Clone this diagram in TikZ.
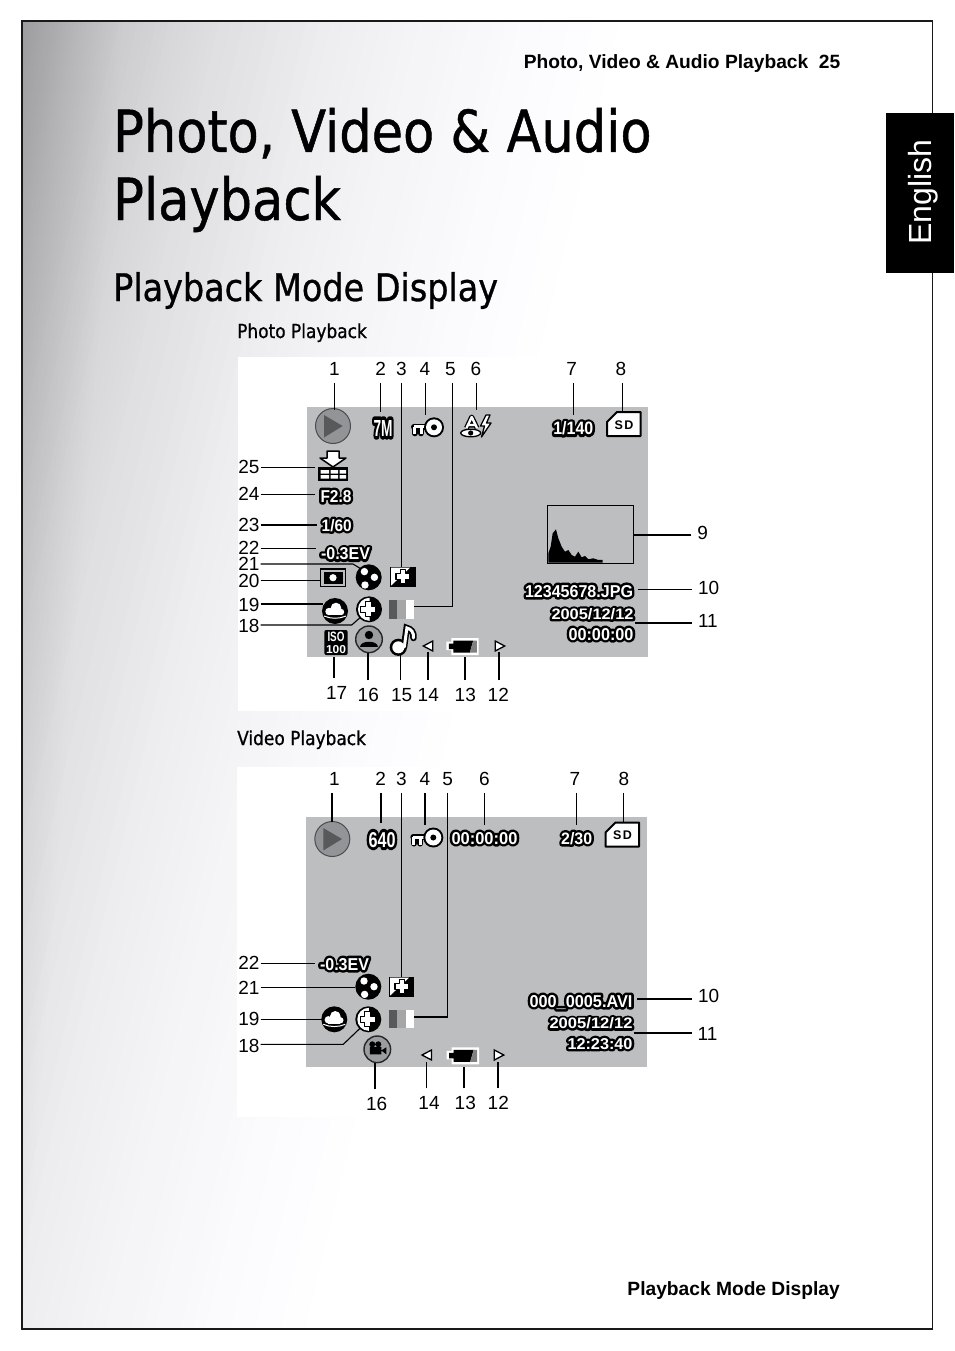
\documentclass[tikz,border=0pt]{standalone}
\usepackage{fontspec}
\usepackage{graphicx}
\setmainfont{Liberation Sans}
\newfontfamily\tahoma[FakeStretch=0.88,FakeBold=0.8]{DejaVu Sans}
\newfontfamily\osdfill{Liberation Sans}
\newfontfamily\osdhalo[BoldFeatures={FakeBold=30}]{Liberation Sans}
\definecolor{lcd}{RGB}{188,190,192}
\definecolor{playfill}{RGB}{146,148,151}
\definecolor{playdark}{RGB}{88,89,91}
\definecolor{personfill}{RGB}{155,157,160}
\tikzset{
  lbl/.style={inner sep=0pt,outer sep=0pt,text height=13pt,text depth=0pt,font=\fontsize{19}{19}\selectfont},
  lead/.style={line width=1.1pt,black},
  leadb/.style={line width=2pt,black},
  osdtext/.style={inner sep=0pt,outer sep=0pt},
  iconline/.style={black,line width=1.1pt},
}
\newcommand\haloed[1]{\hbox{\special{pdf:code 1 j 1 J}\fontsize{15}{15}\selectfont\rlap{\color{black}\osdhalo\bfseries #1}\textcolor{white}{\osdfill\bfseries #1}}}
\newcommand\osd[6]{\node[osdtext,anchor=base] (#1) at (#2,{#3+#5/2}) {\resizebox{#4pt}{#5pt}{\haloed{#6}}};}
% connectors
\newcommand\conntop[4][lead]{\draw[#1,shorten <=7pt] (#2.south -| #3) -- (#3);}
\newcommand\connbot[4][lead]{\draw[#1,shorten <=8.5pt] (#2.north -| #3) -- (#3);}
\newcommand\connleft[3][lead]{\draw[#1,shorten <=1pt] (#2.east |- #3) -- (#3);}
\newcommand\connright[3][lead]{\draw[#1,shorten <=6pt] (#2.west |- #3) -- (#3);}
% icons
\newcommand\iconplay[2]{\begin{scope}[shift={(#1,#2)}]
 \fill[playfill,draw=black!70,line width=1pt] (0,0) circle (17.5);
 \fill[playdark] (-9,-11) -- (-9,11.5) -- (9.7,0) -- cycle;
\end{scope}}
\newcommand\iconkey[2]{\begin{scope}[shift={(#1,#2)}]
 \draw[black,line width=6pt,line join=round,line cap=round] (-8,-0.5) -- (-20,-0.5) (-19.5,-0.5) -- (-19.5,6) (-13,-0.5) -- (-13,6);
 \draw[white,line width=3pt,line join=round] (-6,-0.5) -- (-20,-0.5) (-19.5,-0.5) -- (-19.5,7) (-13,-0.5) -- (-13,7);
 \fill[black] (0,0) circle (10);
 \fill[white] (0,0) circle (8);
 \fill[black] (0,0) circle (3);
\end{scope}}
\newcommand\iconsd[2]{\begin{scope}[shift={(#1,#2)}]
 \draw[black,fill=white,line width=2pt,line join=round] (-17,-2) -- (-7,-12) -- (16.5,-12) -- (16.5,12) -- (-17,12) -- cycle;
 \node[inner sep=0pt] at (0,1) {\fontsize{12.5}{12.5}\selectfont\bfseries S\kern1.5pt D};
\end{scope}}
\newcommand\iconwb[2]{\begin{scope}[shift={(#1,#2)}]
 \fill[black] (0,0) circle (13);
 \fill[white] (-4.3,-5.7) circle (3.7) (5.7,0) circle (3.7) (-3.7,7.7) circle (3.7);
\end{scope}}
\newcommand\plusshape[2]{%
 \draw[black,fill=white,line width=1.1pt,line join=round] (-#2,-#1) -- (#2,-#1) -- (#2,-#2) -- (#1,-#2) -- (#1,#2) -- (#2,#2) -- (#2,#1) -- (-#2,#1) -- (-#2,#2) -- (-#1,#2) -- (-#1,-#2) -- (-#2,-#2) -- cycle;}
\newcommand\iconflash[3]{\begin{scope}[shift={(#1,#2)}]
 \fill[black] (-13,-10) rectangle (#3,10);
 \fill[white] (-12,-9) -- (7,-9) -- (-12,9) -- cycle;
 \plusshape{7}{2.8}
\end{scope}}
\newcommand\iconbars[2]{\begin{scope}[shift={(#1,#2)}]
 \fill[playdark] (0,0) rectangle (8.4,18.5);
 \fill[black!35] (8.4,0) rectangle (16.8,18.5);
 \fill[white] (16.8,0) rectangle (25,18.5);
\end{scope}}
\newcommand\iconcloud[2]{\begin{scope}[shift={(#1,#2)}]
 \fill[black] (0,0) circle (13);
 \fill[white] (1,-3) circle (5.3) (-6,0.5) circle (3.7) (6,1) circle (3.2);
 \fill[white] (-6,-1) rectangle (6,4.2);
 \draw[white,line width=1pt] (-11,5) .. controls (-4,8) and (4,8) .. (11,5);
\end{scope}}
\newcommand\iconhalf[2]{\begin{scope}[shift={(#1,#2)}]
 \fill[black] (0,0) circle (13);
 \fill[white] (0.5,11.5) arc (90:270:11.5) -- cycle;
 \begin{scope}[shift={(-0.7,0)}]\plusshape{7.5}{3}\end{scope}
\end{scope}}
\newcommand\icontriL[2]{\draw[black,fill=white,line width=1.3pt,line join=miter] (#1-5,#2) -- (#1+4.5,#2-5) -- (#1+4.5,#2+5) -- cycle;}
\newcommand\icontriR[2]{\draw[black,fill=white,line width=1.3pt,line join=miter] (#1-4.5,#2-5) -- (#1+5,#2) -- (#1-4.5,#2+5) -- cycle;}
\newcommand\iconbatt[2]{\begin{scope}[shift={(#1,#2)}]
 \fill[white] (0,3.5) rectangle (6,12) (5,0) rectangle (32.3,17);
 \fill[black] (2.5,5.5) rectangle (7,11) (7,2.5) -- (27,2.5) -- (23.5,14.5) -- (7,14.5) -- cycle;
 \fill[black!50] (27,2.5) -- (30.5,2.5) -- (30.5,14.5) -- (23.5,14.5) -- cycle;
\end{scope}}
\newcommand\iconbase[2]{\fill[personfill,draw=black!85,line width=1.4pt] (#1,#2) circle (13.3);}
\begin{document}
\begin{tikzpicture}[x=1pt,y=-1pt]
\useasboundingbox (0,0) rectangle (954,1351);
\fill[white] (0,0) rectangle (954,1351);
% page background gradient
\begin{scope}
 \clip (22,21) rectangle (932,1329);
 \foreach \sa/\va/\sb/\vb in {16/180/54/188,54/188/84/195,84/195/124/204,124/204/174/215,174/215/224/224,224/224/324/237,324/237/424/245,424/245/524/251,524/251/624/255}{
  \foreach \t in {0,0.125,...,0.99}{
   \pgfmathsetmacro\s{\sa+\t*(\sb-\sa)}
   \pgfmathtruncatemacro\vv{\va+\t*(\vb-\va)}
   \pgfmathtruncatemacro\vc{min(\vv+2,255)}
   \definecolor{gr}{RGB}{\vv,\vv,\vc}
   \fill[gr] (\s,0) -- (954,0) -- (954,1351) -- ({\s-0.24*1351},1351) -- cycle;
  }
 }
 \fill[white] (624,0) -- (954,0) -- (954,1351) -- ({624-0.24*1351},1351) -- cycle;
 \foreach \k in {4,8,...,100}{
  \fill[black,opacity=.0055] (22,21) -- ({22+\k},21) -- (22,{21+13*\k}) -- cycle;
 }
\end{scope}
% white picture panels
\fill[white] (238,357) rectangle (735,711);
\fill[white] (237,767) rectangle (735,1117);
% frame
\draw[black!90,line width=1.2pt] (22,21) -- (22,1329) -- (932.5,1329) -- (932.5,21);
\draw[black!90,line width=2pt] (21.4,21.5) -- (933,21.5);
% tab
\fill[black] (886,113) rectangle (954,273);
\node[rotate=90,anchor=base,text=white,inner sep=0pt,font=\fontsize{32}{32}\selectfont] (tab) at (931,192) {English};
% headings
\node[anchor=base east,inner sep=0pt,font=\fontsize{19.2}{19.2}\selectfont\bfseries] (hdr) at (840.5,69) {Photo, Video \& Audio Playback\ \ 25};
\node[anchor=base east,inner sep=0pt,font=\fontsize{19.2}{19.2}\selectfont\bfseries] (ftr) at (840,1295) {Playback Mode Display};
\node[anchor=base west,inner sep=0pt,font=\tahoma\fontsize{58}{58}\selectfont] (t1) at (113,152) {Photo, Video \& Audio};
\node[anchor=base west,inner sep=0pt,font=\tahoma\fontsize{58}{58}\selectfont] (t2) at (113,220) {Playback};
\node[anchor=base west,inner sep=0pt,font=\tahoma\fontsize{38}{38}\selectfont] (t3) at (113,301) {Playback Mode Display};
\node[anchor=base west,inner sep=0pt,font=\tahoma\fontsize{19.3}{19.3}\selectfont] (t4) at (237,338) {Photo Playback};
\node[anchor=base west,inner sep=0pt,font=\tahoma\fontsize{19.3}{19.3}\selectfont] (t5) at (237,745) {Video Playback};
% LCD panels
\fill[lcd] (307,407) rectangle (648,657);
\fill[lcd] (306,817) rectangle (647,1067);

%%%%%%%%%% PHOTO ICONS
\iconplay{333}{426}
\osd{p7m}{383}{428}{19}{16}{7M}
\iconkey{434}{427.3}
% A + eye + flash
\draw[black,line width=5pt,line join=round] (466.5,428) -- (471.7,417) -- (477,428) (468.5,425) -- (475,425);
\draw[white,line width=2.4pt,line join=round] (466.5,428) -- (471.7,417) -- (477,428) (468.5,425) -- (475,425);
\draw[black,fill=white,line width=1.3pt] (470.7,433) ellipse (10 and 3.8);
\fill[black] (470.7,433) circle (2.6);
\draw[black,fill=white,line width=1.3pt,line join=round] (486,415) -- (480.5,426) -- (484.5,426) -- (481.5,437) -- (491,423) -- (486.5,423) -- (490,415) -- cycle;
\osd{pcount}{573.3}{428}{40}{13}{1/140}
\iconsd{624}{424}
% print
\draw[black,fill=white,line width=1.5pt,line join=round] (327,451) -- (339,451) -- (339,458) -- (346,458) -- (333,467) -- (320,458) -- (327,458) -- cycle;
\fill[black] (318,467) rectangle (348.3,481);
\fill[white] (320.5,470) rectangle (329,473.5) (330.5,470) rectangle (338,473.5) (339.5,470) rectangle (346,473.5)
             (320.5,475) rectangle (329,478.5) (330.5,475) rectangle (338,478.5) (339.5,475) rectangle (346,478.5);
\osd{paper}{336}{496}{31}{12}{F2.8}
\osd{pshut}{336.7}{525}{30}{12}{1/60}
\osd{pev}{345.5}{553.5}{49}{12}{-0.3EV}
% metering
\draw[black,line width=1.1pt] (320.5,569) rectangle (345.5,586.5);
\fill[black] (323.5,571.5) rectangle (342.5,584);
\fill[white] (333,577.7) circle (3.6);
\iconwb{368.7}{577.3}
\iconflash{403}{576.7}{13}
\iconbars{389}{600}
\iconcloud{335}{611}
\iconhalf{369}{609.3}
% iso
\fill[black,rounded corners=2pt] (324.3,630) rectangle (347.7,655);
\node[inner sep=0pt,anchor=base] (piso) at (336,641.5) {\resizebox{17pt}{9.5pt}{\textcolor{white}{\bfseries ISO}}};
\node[inner sep=0pt,anchor=base] (p100) at (336,653.3) {\resizebox{20pt}{8pt}{\textcolor{white}{\bfseries 100}}};
% person
\iconbase{369}{639.3}
\fill[black] (369,635) circle (4.2);
\fill[black] (360,646.5) .. controls (360,640) and (378,640) .. (378,646.5) -- cycle;
% note
\fill[black] (398.3,647.3) circle (8.6);
\draw[black,line width=6.5pt,line cap=round] (404,647) -- (406.7,628) .. controls (411,629) and (414,632) .. (413.5,638);
\draw[white,line width=3pt,line cap=round] (404.3,647) -- (406.9,628) .. controls (411,629) and (414,632) .. (413.5,638);
\fill[white] (398.3,647.3) circle (6);
\icontriL{428.3}{646}
\iconbatt{446.3}{638}
\icontriR{499.7}{646}
% histogram
\draw[black,line width=1pt] (547.3,505.7) rectangle (633.3,563.3);
\begin{scope}[shift={(460,350)},x=.3333pt,y=-.3333pt]
 \fill[black] (265,638) -- (265,610) -- (272,590) -- (278,550) -- (288,538) -- (295,565) -- (305,590) -- (315,605) -- (325,600) -- (335,615) -- (345,620) -- (355,605) -- (365,622) -- (375,618) -- (385,628) -- (400,625) -- (415,630) -- (428,630) -- (428,638) -- cycle;
\end{scope}
\osd{pname}{579}{591}{108}{12}{12345678.JPG}
\osd{pdate}{592.5}{613.7}{82}{11}{2005/12/12}
\osd{ptime}{601}{634}{65}{12}{00:00:00}

%%%%%%%%%% PHOTO LABELS AND LEADERS
\foreach \n/\x in {1/334.3,2/380.7,3/401.3,4/425,5/450.3,6/476,7/571.7,8/621}{
 \node[lbl] (pt\n) at (\x,369.3) {\n};}
\foreach \n/\x/\y in {17/336.7/692.5,16/368.3/695,15/401.7/695,14/428.3/695,13/465.3/695,12/498.3/695}{
 \node[lbl] (pb\n) at (\x,\y) {\n};}
\foreach \n/\y in {25/467.3,24/494.3,23/525,22/547.8,21/564,20/580.7,19/605,18/626}{
 \node[lbl,anchor=east] (pl\n) at (259.5,\y) {\n};}
\node[lbl,anchor=west] (pr9) at (697.3,532.7) {9};
\node[lbl,anchor=west] (pr10) at (698,588.3) {10};
\node[lbl,anchor=west] (pr11) at (698,621) {11};

\coordinate (pe1) at (334.3,410);
\coordinate (pe2) at (380.7,412);
\coordinate (pe3) at (401.3,567);
\coordinate (pe4) at (425.7,415);
\coordinate (pe5a) at (452.3,606.7);
\coordinate (pe5) at (414,606.7);
\coordinate (pe6) at (476.7,410);
\coordinate (pe7) at (573.3,415);
\coordinate (pe8) at (622.7,411);
\coordinate (pe9) at (634,535);
\coordinate (pe10) at (638,589.5);
\coordinate (pe11) at (635,623);
\coordinate (pe12) at (499,652);
\coordinate (pe13) at (465.3,657);
\coordinate (pe14) at (428,652);
\coordinate (pe15) at (400.7,655);
\coordinate (pe16) at (368,653);
\coordinate (pe17) at (334,657);
\coordinate (pe25) at (315,467.3);
\coordinate (pe24) at (315,494.3);
\coordinate (pe23) at (316.7,525);
\coordinate (pe22) at (316,548.7);
\coordinate (pe21a) at (353,564);
\coordinate (pe21) at (360,568.3);
\coordinate (pe20) at (320,580.3);
\coordinate (pe19) at (323,604.3);
\coordinate (pe18a) at (351.7,625);
\coordinate (pe18) at (360,617.7);
\conntop{pt1}{pe1}{} \conntop{pt2}{pe2}{} \conntop{pt3}{pe3}{} \conntop{pt4}{pe4}{}
\conntop{pt6}{pe6}{} \conntop{pt7}{pe7}{} \conntop{pt8}{pe8}{}
\draw[lead,shorten <=7pt] (pt5.south -| pe5a) -- (pe5a) -- (pe5);
\connright[leadb]{pr9}{pe9}
\connright{pr10}{pe10}
\connright{pr11}{pe11}
\connbot{pb12}{pe12}{} \connbot[leadb]{pb13}{pe13}{} \connbot{pb14}{pe14}{}
\connbot{pb15}{pe15}{} \connbot{pb16}{pe16}{} \connbot{pb17}{pe17}{}
\connleft{pl25}{pe25}
\connleft{pl24}{pe24}
\connleft{pl23}{pe23}
\connleft{pl22}{pe22}
\connleft{pl20}{pe20}
\connleft[leadb]{pl19}{pe19}
\draw[lead,shorten <=1pt] (pl21.east |- pe21a) -- (pe21a) -- (pe21);
\draw[lead,shorten <=1pt] (pl18.east |- pe18a) -- (pe18a) -- (pe18);

%%%%%%%%%% VIDEO ICONS
\iconplay{332.3}{839}
\osd{v640}{382}{839.5}{27}{15}{640}
\iconkey{433.3}{837.5}
\osd{vclock}{484.5}{838}{66}{12}{00:00:00}
\osd{vcount}{576.7}{838}{31}{12}{2/30}
\iconsd{622.5}{834.5}
\osd{vev}{344.5}{964}{49}{12}{-0.3EV}
\iconwb{368.3}{986.7}
\iconflash{402}{986.7}{12}
\iconbars{389}{1009.5}
\iconcloud{334.3}{1019.3}
\iconhalf{368.3}{1019.3}
\iconbase{377.3}{1049.3}
\fill[black] (372.3,1044.3) circle (3) (378.3,1044.3) circle (3);
\fill[black] (369.8,1047) rectangle (381.3,1054.3) (381.3,1050.5) -- (386.3,1047.3) -- (386.3,1054.3) -- cycle;
\icontriL{427}{1055}
\iconbatt{446.7}{1047.3}
\icontriR{498.8}{1055}
\osd{vname}{581}{1001}{103}{12}{000\_0005.AVI}
\osd{vdate}{591}{1023}{83}{11}{2005/12/12}
\osd{vtime}{600}{1043.5}{65}{11}{12:23:40}

%%%%%%%%%% VIDEO LABELS AND LEADERS
\foreach \n/\x in {1/334.3,2/380.7,3/401.3,4/425,5/447.7,6/484.3,7/575,8/624}{
 \node[lbl] (vt\n) at (\x,779.3) {\n};}
\foreach \n/\x/\y in {16/376.7/1104.3,14/429/1103.3,13/465.3/1103.3,12/498.3/1103.3}{
 \node[lbl] (vb\n) at (\x,\y) {\n};}
\foreach \n/\y in {22/963.3,21/988.3,19/1019.3,18/1045.7}{
 \node[lbl,anchor=east] (vl\n) at (259.5,\y) {\n};}
\node[lbl,anchor=west] (vr10) at (698,996) {10};
\node[lbl,anchor=west] (vr11) at (697.7,1034) {11};
\coordinate (ve1) at (332,822);
\coordinate (ve2) at (381,823);
\coordinate (ve3) at (401.7,977);
\coordinate (ve4) at (425,825);
\coordinate (ve5a) at (447.7,1017);
\coordinate (ve5) at (414,1017);
\coordinate (ve6) at (484.3,825);
\coordinate (ve7) at (576.7,825);
\coordinate (ve8) at (623.3,821.7);
\coordinate (ve10) at (636.7,999);
\coordinate (ve11) at (634,1032.7);
\coordinate (ve12) at (497.7,1061.7);
\coordinate (ve13) at (464,1067);
\coordinate (ve14) at (426.7,1061.7);
\coordinate (ve16) at (375,1063);
\coordinate (ve22) at (315,963.3);
\coordinate (ve21) at (355,987.3);
\coordinate (ve19) at (321.7,1019.3);
\coordinate (ve18a) at (343.3,1044.3);
\coordinate (ve18) at (360,1028.3);
\conntop[leadb]{vt1}{ve1}{} \conntop{vt2}{ve2}{} \conntop{vt3}{ve3}{} \conntop[leadb]{vt4}{ve4}{}
\conntop{vt6}{ve6}{} \conntop{vt7}{ve7}{} \conntop{vt8}{ve8}{}
\draw[lead,shorten <=7pt] (vt5.south -| ve5a) -- (ve5a) -- (ve5);
\connright{vr10}{ve10}
\connright[leadb]{vr11}{ve11}
\connbot[leadb]{vb12}{ve12}{} \connbot{vb13}{ve13}{} \connbot{vb14}{ve14}{} \connbot{vb16}{ve16}{}
\connleft{vl22}{ve22}
\connleft{vl21}{ve21}
\connleft{vl19}{ve19}
\draw[lead,shorten <=1pt] (vl18.east |- ve18a) -- (ve18a) -- (ve18);
\end{tikzpicture}
\end{document}
